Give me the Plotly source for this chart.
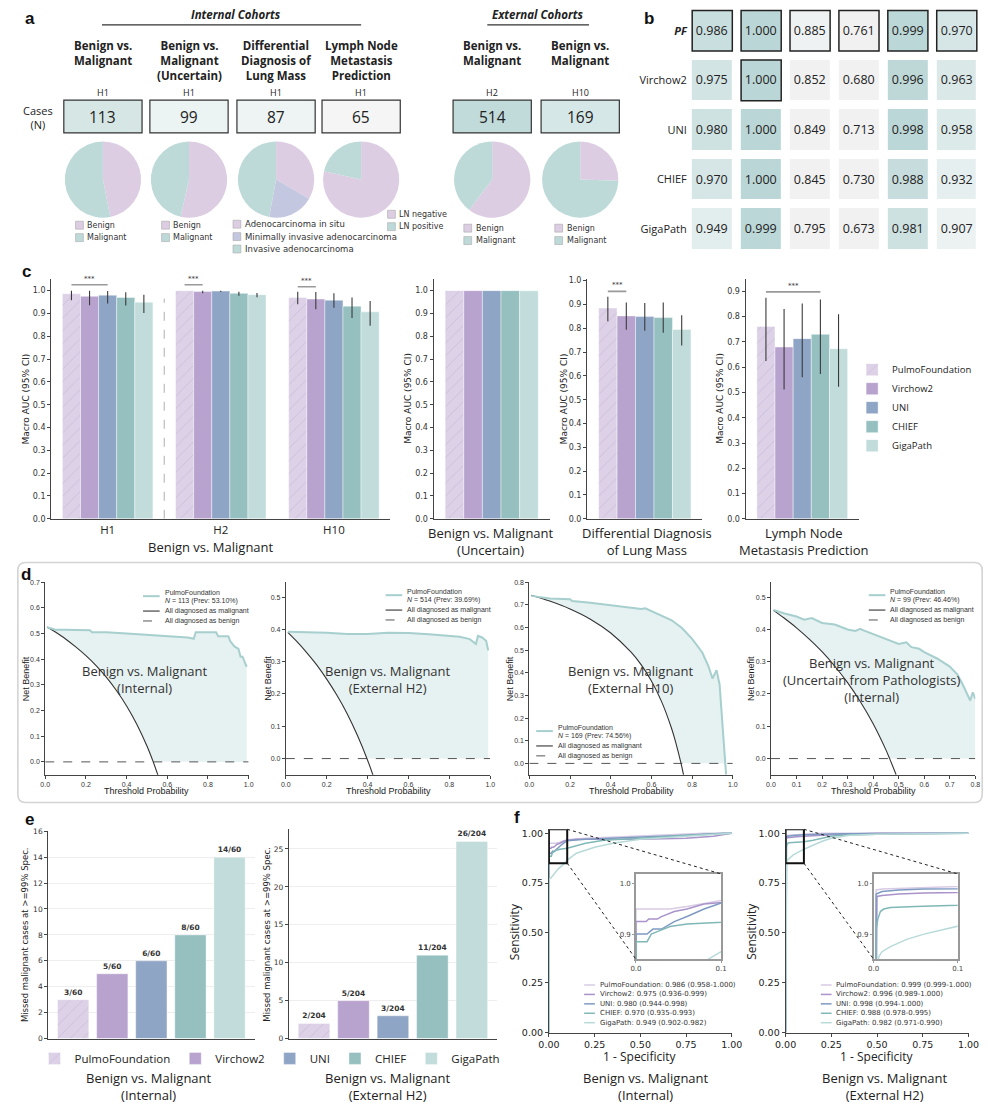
import plotly.graph_objects as go

W, H = 1002, 1113


def PX(x):
    return x / W


def PY(y):
    return 1 - y / H


# ======================= DATA =======================
MODELS = ["PulmoFoundation", "Virchow2", "UNI", "CHIEF", "GigaPath"]

# ---- panel a
A_TASKS = ["Benign vs.<br>Malignant", "Benign vs.<br>Malignant<br>(Uncertain)",
           "Differential<br>Diagnosis of<br>Lung Mass", "Lymph Node<br>Metastasis<br>Prediction",
           "Benign vs.<br>Malignant", "Benign vs.<br>Malignant"]
A_COHORTS = ["H1", "H1", "H1", "H1", "H2", "H10"]
A_CASES = [113, 99, 87, 65, 514, 169]
A_PIE_LABELS = [["Benign", "Malignant"], ["Benign", "Malignant"],
                ["Adenocarcinoma in situ", "Minimally invasive adenocarcinoma", "Invasive adenocarcinoma"],
                ["LN negative", "LN positive"], ["Benign", "Malignant"], ["Benign", "Malignant"]]
A_PIE_VALUES = [[53, 60], [53, 46], [29, 17, 41], [51, 14], [310, 204], [43, 126]]

# ---- panel b
B_ROWS = ["<b><i>PF</i></b>", "Virchow2", "UNI", "CHIEF", "GigaPath"]
B_AUC = [[0.986, 1.000, 0.885, 0.761, 0.999, 0.970],
         [0.975, 1.000, 0.852, 0.680, 0.996, 0.963],
         [0.980, 1.000, 0.849, 0.713, 0.998, 0.958],
         [0.970, 1.000, 0.845, 0.730, 0.988, 0.932],
         [0.949, 0.999, 0.795, 0.673, 0.981, 0.907]]
B_OUTLINED = [(0, 0), (0, 1), (0, 2), (0, 3), (0, 4), (0, 5), (1, 1)]

# ---- panel c
C1_GROUPS = ["H1", "H2", "H10"]
C1_AUC = [[0.986, 0.999, 0.970], [0.975, 0.996, 0.963], [0.980, 0.998, 0.958],
          [0.970, 0.988, 0.932], [0.949, 0.982, 0.907]]
C1_LO = [[0.958, 0.999, 0.940], [0.936, 0.989, 0.918], [0.944, 0.994, 0.925],
         [0.935, 0.978, 0.880], [0.902, 0.971, 0.846]]
C1_HI = [[1.000, 1.000, 0.995], [0.999, 1.000, 0.994], [0.998, 1.000, 0.988],
         [0.993, 0.995, 0.970], [0.982, 0.990, 0.955]]
C1_SIG = [(0, 0, 2, 1.026), (1, 0, 1, 1.026), (2, 0, 1, 1.017)]
C_TASKS = ["Benign vs. Malignant<br>(Uncertain)", "Differential Diagnosis<br>of Lung Mass",
           "Lymph Node<br>Metastasis Prediction"]
C_AUC = [[1.000, 1.000, 1.000, 1.000, 0.999],
         [0.885, 0.852, 0.849, 0.845, 0.795],
         [0.761, 0.680, 0.713, 0.730, 0.673]]
C_LO = [[1.000, 1.000, 1.000, 1.000, 0.999],
        [0.830, 0.794, 0.790, 0.781, 0.728],
        [0.625, 0.512, 0.560, 0.573, 0.523]]
C_HI = [[1.000, 1.000, 1.000, 1.000, 0.999],
        [0.932, 0.908, 0.906, 0.908, 0.855],
        [0.875, 0.830, 0.852, 0.868, 0.810]]
C_SIG = [None, (0, 1, 0.955), (0, 3, 0.898)]

# ---- panel d
D_TITLES = ["Benign vs. Malignant<br>(Internal)", "Benign vs. Malignant<br>(External H2)",
            "Benign vs. Malignant<br>(External H10)",
            "Benign vs. Malignant<br>(Uncertain from Pathologists)<br>(Internal)"]
D_N = [113, 514, 169, 99]
D_PREV = [53.10, 39.69, 74.56, 46.46]
D_PF_X = [
    [0.01, 0.05, 0.1, 0.2, 0.22, 0.23, 0.3, 0.4, 0.5, 0.6, 0.7, 0.73, 0.74, 0.8, 0.84, 0.85, 0.88,
     0.9, 0.91, 0.93, 0.95, 0.96, 0.97, 0.98, 0.99],
    [0.01, 0.1, 0.2, 0.3, 0.4, 0.5, 0.6, 0.7, 0.8, 0.85, 0.9, 0.92, 0.93, 0.94, 0.96, 0.98, 0.99],
    [0.01, 0.1, 0.2, 0.21, 0.3, 0.4, 0.5, 0.55, 0.57, 0.6, 0.65, 0.7, 0.75, 0.8, 0.85, 0.88, 0.9,
     0.92, 0.935, 0.95, 0.96, 0.967],
    [0.01, 0.05, 0.1, 0.13, 0.16, 0.2, 0.25, 0.3, 0.33, 0.35, 0.36, 0.4, 0.45, 0.5, 0.53, 0.55,
     0.58, 0.6, 0.65, 0.7, 0.73, 0.75, 0.78, 0.79, 0.8]]
D_PF_Y = [
    [0.525, 0.515, 0.515, 0.515, 0.513, 0.505, 0.505, 0.500, 0.495, 0.490, 0.485, 0.480, 0.505,
     0.505, 0.505, 0.490, 0.490, 0.490, 0.470, 0.450, 0.440, 0.410, 0.410, 0.390, 0.370],
    [0.393, 0.392, 0.390, 0.386, 0.386, 0.390, 0.389, 0.385, 0.380, 0.377, 0.370, 0.360, 0.355,
     0.380, 0.375, 0.365, 0.335],
    [0.740, 0.728, 0.725, 0.717, 0.710, 0.700, 0.690, 0.682, 0.685, 0.672, 0.652, 0.632, 0.598,
     0.550, 0.490, 0.430, 0.375, 0.412, 0.350, 0.180, 0.050, -0.050],
    [0.460, 0.450, 0.440, 0.430, 0.435, 0.420, 0.415, 0.400, 0.395, 0.402, 0.398, 0.385, 0.370,
     0.355, 0.360, 0.345, 0.340, 0.330, 0.310, 0.285, 0.260, 0.230, 0.180, 0.205, 0.185]]
D_ALL_X = [
    [0.01, 0.05, 0.1, 0.15, 0.2, 0.25, 0.3, 0.35, 0.4, 0.45, 0.5, 0.53, 0.555],
    [0.01, 0.05, 0.1, 0.15, 0.2, 0.25, 0.3, 0.35, 0.4, 0.43],
    [0.01, 0.1, 0.2, 0.3, 0.4, 0.5, 0.55, 0.6, 0.65, 0.7, 0.72, 0.745, 0.758],
    [0.01, 0.05, 0.1, 0.15, 0.2, 0.25, 0.3, 0.35, 0.4, 0.45, 0.465, 0.49]]
D_ALL_Y = [
    [0.526, 0.506, 0.479, 0.448, 0.414, 0.375, 0.330, 0.278, 0.218, 0.147, 0.062, 0.002, -0.054],
    [0.391, 0.365, 0.330, 0.291, 0.246, 0.196, 0.139, 0.072, -0.005, -0.058],
    [0.743, 0.717, 0.682, 0.637, 0.576, 0.491, 0.435, 0.364, 0.273, 0.152, 0.091, 0.002, -0.051],
    [0.459, 0.436, 0.405, 0.370, 0.331, 0.286, 0.235, 0.176, 0.108, 0.027, -0.001, -0.050]]

# ---- panel e
E_TASKS = ["Benign vs. Malignant<br>(Internal)", "Benign vs. Malignant<br>(External H2)"]
E_MISSED = [[3, 5, 6, 8, 14], [2, 5, 3, 11, 26]]
E_TOTAL = [60, 204]

# ---- panel f
F_TASKS = ["Benign vs. Malignant<br>(Internal)", "Benign vs. Malignant<br>(External H2)"]
F_AUC = [[0.986, 0.975, 0.980, 0.970, 0.949], [0.999, 0.996, 0.998, 0.988, 0.982]]
F_LO = [[0.958, 0.936, 0.944, 0.935, 0.902], [0.999, 0.989, 0.994, 0.978, 0.971]]
F_HI = [[1.000, 0.999, 0.998, 0.993, 0.982], [1.000, 1.000, 1.000, 0.995, 0.990]]
F_ROC_X = [
    [[0, 0, 0.005, 0.04, 0.06, 0.1, 0.2, 0.35, 0.5, 0.7, 0.85, 1.0],
     [0, 0, 0.012, 0.015, 0.025, 0.03, 0.045, 0.06, 0.08, 0.1, 0.15, 0.5, 0.75, 0.9, 1.0],
     [0, 0, 0.013, 0.02, 0.03, 0.035, 0.045, 0.06, 0.08, 0.1, 0.2, 0.5, 0.75, 0.95, 1.0],
     [0, 0, 0.013, 0.018, 0.025, 0.04, 0.06, 0.1, 0.2, 0.3, 0.5, 0.75, 1.0],
     [0, 0, 0.01, 0.03, 0.05, 0.08, 0.1, 0.15, 0.25, 0.35, 0.5, 0.75, 1.0]],
    [[0, 0.003, 0.01, 0.05, 0.1, 0.2, 1.0],
     [0, 0.004, 0.01, 0.03, 0.06, 0.1, 0.3, 0.5, 1.0],
     [0, 0.003, 0.01, 0.03, 0.06, 0.1, 0.3, 1.0],
     [0, 0.003, 0.005, 0.008, 0.012, 0.02, 0.05, 0.1, 0.15, 0.2, 0.25, 0.3, 0.5, 1.0],
     [0, 0.004, 0.006, 0.01, 0.02, 0.04, 0.06, 0.08, 0.1, 0.15, 0.2, 0.25, 0.35, 0.5, 1.0]]]
F_ROC_Y = [
    [[0, 0.95, 0.95, 0.95, 0.955, 0.967, 0.975, 0.98, 0.985, 0.995, 1.0, 1.0],
     [0, 0.925, 0.925, 0.93, 0.93, 0.935, 0.945, 0.95, 0.96, 0.965, 0.97, 0.97, 0.975, 0.985, 1.0],
     [0, 0.90, 0.90, 0.91, 0.91, 0.915, 0.925, 0.935, 0.95, 0.962, 0.97, 0.98, 0.99, 1.0, 1.0],
     [0, 0.885, 0.885, 0.90, 0.905, 0.915, 0.92, 0.925, 0.95, 0.965, 0.975, 0.99, 1.0],
     [0, 0.77, 0.775, 0.80, 0.82, 0.845, 0.865, 0.90, 0.93, 0.95, 0.97, 0.985, 1.0]],
    [[0, 0.988, 0.99, 0.992, 0.995, 1.0, 1.0],
     [0, 0.975, 0.977, 0.98, 0.982, 0.985, 0.995, 1.0, 1.0],
     [0, 0.98, 0.985, 0.988, 0.99, 0.992, 0.998, 1.0],
     [0, 0.91, 0.93, 0.945, 0.95, 0.953, 0.955, 0.957, 0.965, 0.975, 0.985, 0.99, 0.995, 1.0],
     [0, 0.70, 0.855, 0.865, 0.875, 0.89, 0.90, 0.91, 0.92, 0.94, 0.96, 0.975, 0.99, 0.995, 1.0]]]

# ======================= STYLE =======================
BAR_COLORS = ["#dcd1e7", "#b8a3cf", "#8fa5c5", "#96c0bf", "#c1dcdb"]
PF_HATCH = "#b0a2c4"
ROC_COLORS = ["#d8cbe6", "#a993ca", "#7f9ac2", "#7fb8b6", "#b7dad8"]
PIE_COLOR = {"Benign": "#dccde3", "Malignant": "#bddad9", "Adenocarcinoma in situ": "#dccde3",
             "Minimally invasive adenocarcinoma": "#c4c7e0", "Invasive adenocarcinoma": "#bddad9",
             "LN negative": "#dccde3", "LN positive": "#bddad9"}
TEAL_LINE = "#a6cfce"
TEAL_FILL = "#e6f1f1"
TXT = "#222222"
TITLE_FONT = "Open Sans"
TICK_FONT = "DejaVu Sans"

traces, shapes, annotations = [], [], []
layout = dict(width=W, height=H, margin=dict(l=0, r=0, t=0, b=0), paper_bgcolor="white",
              plot_bgcolor="white", barmode="group", bargap=0.2, bargroupgap=0,
              hovermode=False, showlegend=True, font=dict(family=TICK_FONT, color=TXT))


def ann(x, y, text, size=10, family=TITLE_FONT, color=TXT, xanchor="center", yanchor="middle",
        angle=0):
    annotations.append(dict(x=PX(x), y=PY(y), xref="paper", yref="paper", text=text,
                            showarrow=False, font=dict(size=size, family=family, color=color),
                            xanchor=xanchor, yanchor=yanchor, textangle=angle, borderpad=0))


def rect(x0, y0, x1, y1, fill, line="#333333", lw=1.0):
    shapes.append(dict(type="rect", xref="paper", yref="paper", x0=PX(x0), x1=PX(x1),
                       y0=PY(y1), y1=PY(y0), fillcolor=fill, line=dict(color=line, width=lw)))


def seg(x0, y0, x1, y1, color="#333333", width=1.0, dash="solid"):
    shapes.append(dict(type="line", xref="paper", yref="paper", x0=PX(x0), x1=PX(x1),
                       y0=PY(y0), y1=PY(y1), line=dict(color=color, width=width, dash=dash)))


def axis_pair(i, x0, x1, y0, y1, xa=None, ya=None):
    xs = "xaxis" if i == 1 else f"xaxis{i}"
    ys = "yaxis" if i == 1 else f"yaxis{i}"
    xr = "x" if i == 1 else f"x{i}"
    yr = "y" if i == 1 else f"y{i}"
    layout[xs] = dict(domain=[PX(x0), PX(x1)], anchor=yr, **(xa or {}))
    layout[ys] = dict(domain=[PY(y1), PY(y0)], anchor=xr, **(ya or {}))
    return xr, yr


def spine(**kw):
    d = dict(showline=True, linecolor="#444444", linewidth=1, ticks="outside", ticklen=3,
             tickwidth=1, tickcolor="#444444", showgrid=False, zeroline=False, mirror=False,
             tickfont=dict(size=8, family=TICK_FONT, color="#333333"))
    d.update(kw)
    return d


def bar_marker(m):
    mk = dict(color=BAR_COLORS[m], line=dict(color="rgba(255,255,255,0.7)", width=0.6))
    if m == 0:
        mk["pattern"] = dict(shape="/", fgcolor=PF_HATCH, size=9, solidity=0.08)
    return mk


# ======================= PANEL LETTERS =======================
for letter, lx, ly in [("a", 19, 15), ("b", 652, 15), ("c", 16, 270), ("d", 15, 575),
                       ("e", 19, 822), ("f", 517, 820)]:
    ann(lx, ly, f"<b>{letter}</b>", size=17, family="Liberation Sans", color="#111")

# ======================= PANEL A =======================
A_COL_X = [94, 182, 271, 358, 492, 582]
A_LEG_X = [66, 154, 227, 385, 463, 556]
A_LEG_Y = [223, 223, 222, 212, 226, 226]
A_BOX_FILL = ["#d5e6e5", "#ebf3f3", "#eef4f4", "#f5f5f5", "#c1dbdb", "#d6e7e7"]

ann(230, 11, "<b><i>Internal Cohorts</i></b>", size=11.5)
seg(93, 21, 358, 21, "#333333", 1.2)
ann(538, 11, "<b><i>External Cohorts</i></b>", size=11.5)
seg(487, 21, 591, 21, "#333333", 1.2)
ann(28, 114, "Cases<br>(N)", size=11)

for i in range(6):
    cx = A_COL_X[i]
    ann(cx, 33, f"<b>{A_TASKS[i]}</b>", size=11.5, yanchor="top")
    ann(cx, 89.5, A_COHORTS[i], size=9)
    rect(cx - 40, 97, cx + 40, 130, A_BOX_FILL[i], "#333333", 1.2)
    ann(cx, 113.5, str(A_CASES[i]), size=15.5)
    r = 39
    traces.append(go.Pie(values=A_PIE_VALUES[i], labels=A_PIE_LABELS[i], sort=False,
                         direction="clockwise", rotation=0, textinfo="none", hoverinfo="skip",
                         showlegend=False,
                         marker=dict(colors=[PIE_COLOR[l] for l in A_PIE_LABELS[i]],
                                     line=dict(width=0)),
                         domain=dict(x=[PX(cx - r), PX(cx + r)], y=[PY(177 + r), PY(177 - r)])))
    for k, lab in enumerate(A_PIE_LABELS[i]):
        yy = A_LEG_Y[i] + k * 12.5
        rect(A_LEG_X[i], yy - 4, A_LEG_X[i] + 8, yy + 4, PIE_COLOR[lab], "#aaaaaa", 0.6)
        ann(A_LEG_X[i] + 11, yy, lab, size=8.5 if i in (2,) else 8, family=TICK_FONT,
            color="#333333", xanchor="left")

# ======================= PANEL B =======================
axis_pair(1, 692, 992, 2, 252,
          xa=dict(range=[-0.5, 5.5], showticklabels=False, showgrid=False, zeroline=False,
                  showline=False, ticks=""),
          ya=dict(range=[4.5, -0.5], tickvals=list(range(5)), ticktext=B_ROWS, showgrid=False,
                  zeroline=False, showline=False, ticks="",
                  tickfont=dict(size=11, family=TITLE_FONT, color=TXT)))
traces.append(go.Heatmap(z=B_AUC, x=list(range(6)), y=list(range(5)), zmin=0.67, zmax=1.0,
                         colorscale=[[0, "#f1f1f1"], [0.545, "#f1f1f1"], [0.697, "#eef3f3"],
                                     [0.848, "#e2eded"], [0.909, "#d6e6e6"], [0.939, "#cfe2e2"],
                                     [1.0, "#bad6d6"]],
                         showscale=False, xgap=9, ygap=9, texttemplate="%{z:.3f}",
                         textfont=dict(size=12.5, family=TITLE_FONT, color=TXT),
                         hoverinfo="skip", xaxis="x", yaxis="y"))
g = 0.41
for (ri, cj) in B_OUTLINED:
    shapes.append(dict(type="rect", xref="x", yref="y", x0=cj - g, x1=cj + g, y0=ri - g,
                       y1=ri + g, line=dict(color="#222222", width=1.5)))

# ======================= PANEL C =======================
C_TOP, C_BOT = 277, 519
xr, yr = axis_pair(2, 41, 388, C_TOP, C_BOT,
                   xa=spine(type="category", range=[-0.5, 2.5], ticks="",
                            tickfont=dict(size=11.5, family=TITLE_FONT, color=TXT)),
                   ya=spine(range=[0, 1.052], dtick=0.1, tick0=0, tickformat=".1f"))
for m in range(5):
    traces.append(go.Bar(x=C1_GROUPS, y=C1_AUC[m], name=MODELS[m], marker=bar_marker(m),
                         offsetgroup=str(m), legend="legend", showlegend=True,
                         error_y=dict(type="data", symmetric=False,
                                      array=[h - v for h, v in zip(C1_HI[m], C1_AUC[m])],
                                      arrayminus=[v - l for v, l in zip(C1_AUC[m], C1_LO[m])],
                                      color="#3a3a3a", thickness=1.1, width=0),
                         xaxis=xr, yaxis=yr))
shapes.append(dict(type="line", xref=xr, yref=yr, x0=0.5, x1=0.5, y0=0, y1=0.965,
                   line=dict(color="#999999", width=0.8, dash="dash")))


def bar_center(cat, i):
    return cat - 0.4 + 0.16 * (i + 0.5)


for (cat, i, j, yv) in C1_SIG:
    shapes.append(dict(type="line", xref=xr, yref=yr, x0=bar_center(cat, i), x1=bar_center(cat, j),
                       y0=yv, y1=yv, line=dict(color="#999999", width=1.6)))
    annotations.append(dict(x=(bar_center(cat, i) + bar_center(cat, j)) / 2, y=yv, xref=xr,
                            yref=yr, text="***", showarrow=False, yanchor="bottom",
                            font=dict(size=7, family=TICK_FONT, color="#333")))
ann(205, 547, "Benign vs. Malignant", size=13)
ann(15, 398, "Macro AUC (95% CI)", size=9, family=TICK_FONT, angle=-90)

C_AX = [(3, 432, 551, 1.052, 406, 491), (4, 589, 707, 1.008, 565, 650),
        (5, 751, 867, 0.95, 725, 811)]
for t in range(3):
    ai, x0, x1, top, ylab_x, tx = C_AX[t]
    xr, yr = axis_pair(ai, x0, x1, C_TOP, C_BOT,
                       xa=spine(type="category", range=[-0.5, 0.5], ticks="",
                                showticklabels=False),
                       ya=spine(range=[0, top], dtick=0.1, tick0=0, tickformat=".1f"))
    for m in range(5):
        traces.append(go.Bar(x=[C_TASKS[t]], y=[C_AUC[t][m]], name=MODELS[m],
                             marker=bar_marker(m), offsetgroup=str(m), showlegend=False,
                             error_y=dict(type="data", symmetric=False,
                                          array=[C_HI[t][m] - C_AUC[t][m]],
                                          arrayminus=[C_AUC[t][m] - C_LO[t][m]],
                                          color="#3a3a3a", thickness=1.1, width=0),
                             xaxis=xr, yaxis=yr))
    if C_SIG[t] is not None:
        i, j, yv = C_SIG[t]
        shapes.append(dict(type="line", xref=xr, yref=yr, x0=bar_center(0, i),
                           x1=bar_center(0, j), y0=yv, y1=yv,
                           line=dict(color="#999999", width=1.6)))
        annotations.append(dict(x=(bar_center(0, i) + bar_center(0, j)) / 2, y=yv, xref=xr,
                                yref=yr, text="***", showarrow=False, yanchor="bottom",
                                font=dict(size=7, family=TICK_FONT, color="#333")))
    ann(ylab_x, 398, "Macro AUC (95% CI)", size=9, family=TICK_FONT, angle=-90)
    ann(tx, 542, C_TASKS[t], size=13)

layout["legend"] = dict(x=PX(860), y=PY(354), xanchor="left", yanchor="top",
                        font=dict(size=9.5, family=TITLE_FONT, color=TXT),
                        bgcolor="rgba(0,0,0,0)", tracegroupgap=0)

# ======================= PANEL D =======================
shapes.append(dict(type="path", xref="paper", yref="paper",
                   path=(f"M {PX(15)},{PY(563)} L {PX(985)},{PY(563)} "
                         f"Q {PX(993)},{PY(563)} {PX(993)},{PY(571)} L {PX(993)},{PY(797)} "
                         f"Q {PX(993)},{PY(805)} {PX(985)},{PY(805)} L {PX(15)},{PY(805)} "
                         f"Q {PX(7)},{PY(805)} {PX(7)},{PY(797)} L {PX(7)},{PY(571)} "
                         f"Q {PX(7)},{PY(563)} {PX(15)},{PY(563)} Z"),
                   line=dict(color="#d4d4d4", width=1.6)))

D_AX = [(6, 35, 243, 1.0, 0.2, 0.7, 15, (135, 593), (137, 681)),
        (7, 281, 490, 1.0, 0.2, 0.546, 262, (383, 592), (385, 681)),
        (8, 530, 738, 1.0, 0.2, 0.8, 510, (537, 729), (634, 681)),
        (9, 777, 986, 0.8, 0.1, 0.546, 756, (877, 592), (880, 682))]
DF = "Liberation Sans"
for k in range(4):
    ai, x0, x1, xmax, dx, ytop, ylx, (lx, ly), (tx, ty) = D_AX[k]
    xr, yr = axis_pair(ai, x0, x1, 583, 777,
                       xa=spine(range=[0, xmax], dtick=dx, tick0=0, tickformat=".1f",
                                tickfont=dict(size=7, family=DF, color="#333")),
                       ya=spine(range=[-0.05, ytop], dtick=0.1, tick0=0, tickformat=".1f",
                                tickfont=dict(size=7, family=DF, color="#333")))
    prev = D_PREV[k] / 100
    low_x = [x for x, y in zip(D_ALL_X[k], D_ALL_Y[k]) if y >= 0]
    low_y = [y for y in D_ALL_Y[k] if y >= 0]
    poly_x = D_PF_X[k] + [D_PF_X[k][-1], prev] + low_x[::-1]
    poly_y = D_PF_Y[k] + [0, 0] + low_y[::-1]
    traces.append(go.Scatter(x=poly_x, y=poly_y, fill="toself", fillcolor=TEAL_FILL,
                             line=dict(width=0), mode="lines", showlegend=False,
                             hoverinfo="skip", xaxis=xr, yaxis=yr))
    traces.append(go.Scatter(x=[0, xmax], y=[0, 0], mode="lines", showlegend=False,
                             line=dict(color="#555555", width=1, dash="dash"),
                             xaxis=xr, yaxis=yr))
    traces.append(go.Scatter(x=D_ALL_X[k], y=D_ALL_Y[k], mode="lines", showlegend=False,
                             line=dict(color="#333333", width=1.1, shape="spline"),
                             xaxis=xr, yaxis=yr))
    traces.append(go.Scatter(x=D_PF_X[k], y=D_PF_Y[k], mode="lines", showlegend=False,
                             line=dict(color=TEAL_LINE, width=2), xaxis=xr, yaxis=yr))
    ann((x0 + x1) / 2, 793, "Threshold Probability", size=9, family=DF)
    ann(ylx, 680, "Net Benefit", size=9, family=DF, angle=-90)
    seg(lx, ly + 4, lx + 17, ly + 4, TEAL_LINE, 2)
    ann(lx + 21, ly, "PulmoFoundation", size=7, family=DF, xanchor="left", color="#333")
    ann(lx + 21, ly + 9, f"<i>N</i> = {D_N[k]} (Prev: {D_PREV[k]:.2f}%)", size=7, family=DF,
        xanchor="left", color="#333")
    seg(lx, ly + 19, lx + 17, ly + 19, "#333333", 1.1)
    ann(lx + 21, ly + 19, "All diagnosed as malignant", size=7, family=DF, xanchor="left",
        color="#333")
    seg(lx, ly + 29, lx + 17, ly + 29, "#555555", 1, "dash")
    ann(lx + 21, ly + 29, "All diagnosed as benign", size=7, family=DF, xanchor="left",
        color="#333")
    ann(tx, ty, D_TITLES[k], size=13, color="#333333")

# ======================= PANEL E =======================
E_AX = [(10, 38, 249, 834, 16, 2, 15, 141), (11, 284, 497, 832, 27.6, 5, 262, 385)]
for k in range(2):
    ai, x0, x1, top, ymax, dt, ylx, tx = E_AX[k]
    xr, yr = axis_pair(ai, x0, x1, top, 1043,
                       xa=spine(type="category", range=[-0.64, 4.64], ticks="",
                                showticklabels=False),
                       ya=spine(range=[0, ymax], dtick=dt, tick0=0, showgrid=True,
                                gridcolor="#eeeeee", gridwidth=0.8,
                                tickfont=dict(size=7.5, family=TICK_FONT, color="#333")))
    for m in range(5):
        traces.append(go.Bar(x=[MODELS[m]], y=[E_MISSED[k][m]], name=MODELS[m],
                             marker=bar_marker(m), offsetgroup="e",
                             text=[f"<b>{E_MISSED[k][m]}/{E_TOTAL[k]}</b>"],
                             textposition="outside", constraintext="none", cliponaxis=False,
                             textfont=dict(size=7.5, family=TICK_FONT, color="#333"),
                             legend="legend2", showlegend=(k == 0), xaxis=xr, yaxis=yr))
    ann(ylx, 938, "Missed malignant cases at >=99% Spec.", size=8.5, family=TICK_FONT,
        angle=-90)
    ann(tx, 1091, E_TASKS[k], size=13)

layout["legend2"] = dict(orientation="h", x=PX(24), y=PY(1063), xanchor="left",
                         yanchor="middle", font=dict(size=11.5, family=TITLE_FONT, color=TXT),
                         bgcolor="rgba(0,0,0,0)")

# ======================= PANEL F =======================
F_AX = [(12, 14, 550, 737, 639, 726, 586, 515, 643, 649),
        (13, 15, 792, 979, 882, 968, 828, 757, 885, 894)]
F_TOP, F_BOT, IN_TOP, IN_BOT = 832, 1037, 877, 963
F_TICKS = [0, 0.25, 0.5, 0.75, 1.0]
for k in range(2):
    ai, ii, x0, x1, ix0, ix1, lgx, ylx, xlx, tx = F_AX[k]
    ff = dict(size=9.5, family=TICK_FONT, color="#222")
    xr, yr = axis_pair(ai, x0, x1, F_TOP, F_BOT,
                       xa=spine(range=[0, 1], tickvals=F_TICKS, tickformat=".2f", tickfont=ff),
                       ya=spine(range=[0, 1.02], tickvals=F_TICKS, tickformat=".2f",
                                tickfont=ff))
    ixr, iyr = axis_pair(ii, ix0, ix1, IN_TOP, IN_BOT,
                         xa=dict(range=[0, 0.1], tickvals=[0, 0.1], ticktext=["0.0", "0.1"],
                                 showline=True, mirror=True, linecolor="#999999", linewidth=1.5,
                                 ticks="outside", ticklen=2, tickcolor="#999",
                                 showgrid=False, zeroline=False,
                                 tickfont=dict(size=7, family=TICK_FONT, color="#444")),
                         ya=dict(range=[0.85, 1.02], tickvals=[0.9, 1.0],
                                 ticktext=["0.9", "1.0"], showline=True, mirror=True,
                                 linecolor="#999999", linewidth=1.5, ticks="outside",
                                 ticklen=2, tickcolor="#999", showgrid=False, zeroline=False,
                                 tickfont=dict(size=7, family=TICK_FONT, color="#444")))
    for m in range(5):
        for (axx, axy) in [(xr, yr), (ixr, iyr)]:
            traces.append(go.Scatter(x=F_ROC_X[k][m], y=F_ROC_Y[k][m], mode="lines",
                                     showlegend=False,
                                     line=dict(color=ROC_COLORS[m], width=1.5),
                                     xaxis=axx, yaxis=axy))
        yy = 989 + 9.5 * m
        seg(lgx, yy, lgx + 11, yy, ROC_COLORS[m], 1.5)
        ann(lgx + 15, yy,
            f"{MODELS[m]}: {F_AUC[k][m]:.3f} ({F_LO[k][m]:.3f}-{F_HI[k][m]:.3f})",
            size=7, family=TICK_FONT, xanchor="left", color="#333")
    shapes.append(dict(type="rect", xref=xr, yref=yr, x0=0, x1=0.1, y0=0.85, y1=1.02,
                       line=dict(color="#111111", width=2)))
    bx = x0 + 0.1 * (x1 - x0)
    by_top = F_BOT - 1.02 / 1.02 * (F_BOT - F_TOP)
    by_bot = F_BOT - 0.85 / 1.02 * (F_BOT - F_TOP)
    seg(bx, by_top, ix1, IN_TOP, "#222222", 1, "dot")
    seg(bx, by_bot, ix0, IN_BOT, "#222222", 1, "dot")
    ann(ylx, 935, "Sensitivity", size=12, angle=-90)
    ann(xlx, 1061, "1 - Specificity", size=12)
    ann(tx, 1091, F_TASKS[k], size=13)

layout["shapes"] = shapes
layout["annotations"] = annotations
fig = go.Figure(data=traces, layout=layout)
fig.write_html("out.html")
